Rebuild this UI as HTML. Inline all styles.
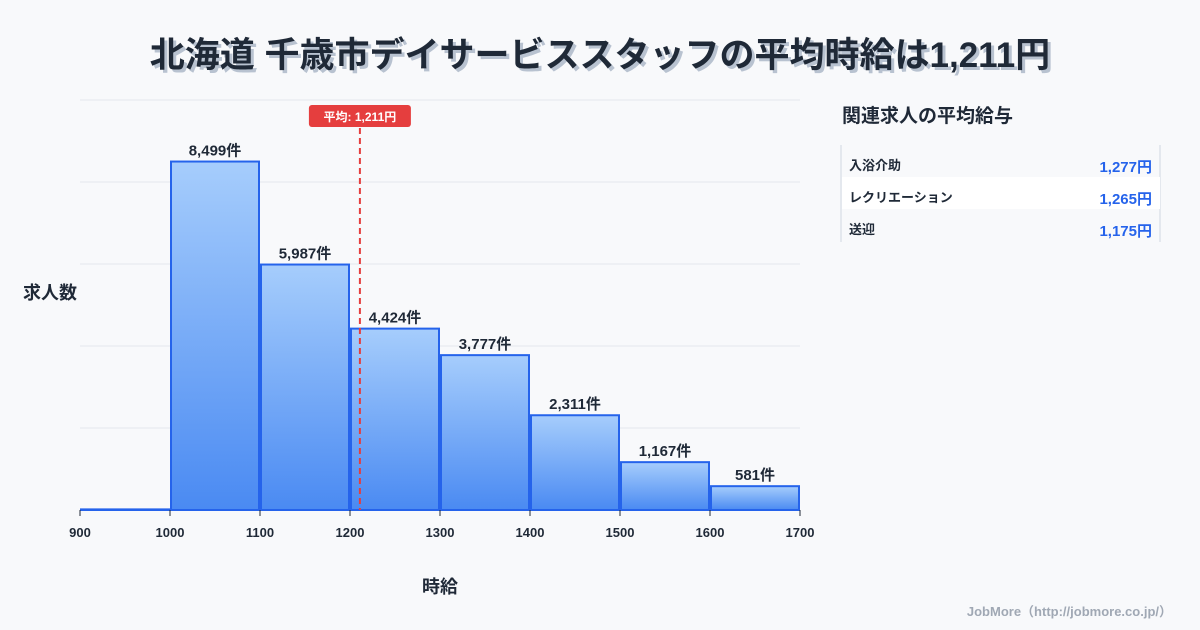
<!DOCTYPE html>
<html><head><meta charset="utf-8"><style>
body{margin:0;background:#f8f9fb;font-family:"Liberation Sans","Noto Sans CJK JP",sans-serif;}
#wrap{position:relative;width:1200px;height:630px;overflow:hidden;background:#f8f9fb}
</style></head><body>
<div id="wrap">
<svg id="svg" width="1200" height="630" xmlns="http://www.w3.org/2000/svg">
<defs><linearGradient id="g" x1="0" y1="0" x2="0" y2="1"><stop offset="0" stop-color="#a6cdfc"/><stop offset="1" stop-color="#4a8af2"/></linearGradient></defs>
<text x="600" y="67" text-anchor="middle" font-size="35" font-weight="bold" fill="#b8c2d0" transform="translate(3,3)">北海道 千歳市デイサービススタッフの平均時給は1,211円</text>
<text x="600" y="67" text-anchor="middle" font-size="35" font-weight="bold" fill="#1f2937">北海道 千歳市デイサービススタッフの平均時給は1,211円</text>
<g id="grid"></g><g id="bars"></g><g id="axis"></g>
<text x="50" y="299" text-anchor="middle" font-size="18" font-weight="bold" fill="#1f2937">求人数</text>
<text x="440" y="593" text-anchor="middle" font-size="18" font-weight="bold" fill="#1f2937">時給</text>
<text x="842" y="122" font-size="19" font-weight="bold" fill="#1f2937">関連求人の平均給与</text>
<line x1="841" y1="145" x2="841" y2="242" stroke="#cfd6e0"/>
<line x1="1160" y1="145" x2="1160" y2="242" stroke="#cfd6e0"/>
<rect x="842" y="177" width="318" height="32" fill="#ffffff"/>
<g font-size="13" font-weight="bold" fill="#1f2937">
<text x="849" y="170">入浴介助</text>
<text x="849" y="202">レクリエーション</text>
<text x="849" y="234">送迎</text></g>
<g font-size="15" font-weight="bold" fill="#2563eb" text-anchor="end">
<text x="1152" y="172">1,277円</text>
<text x="1152" y="204">1,265円</text>
<text x="1152" y="236">1,175円</text></g>
<text x="1172" y="616" text-anchor="end" font-size="13" font-weight="bold" fill="#a0a8b4">JobMore（http://jobmore.co.jp/）</text>
</svg></div>
<script>
const binStarts=[900,1000,1100,1200,1300,1400,1500,1600];
const counts=[15,8499,5987,4424,3777,2311,1167,581];
const countLabels=["","8,499件","5,987件","4,424件","3,777件","2,311件","1,167件","581件"];
const xTicks=[900,1000,1100,1200,1300,1400,1500,1600,1700];
const yTicks=[0,2000,4000,6000,8000,10000];
const meanValue=1211;
const meanLabel="平均: 1,211円";
const NS="http://www.w3.org/2000/svg";
const X=v=>80+(v-900)*0.9;
const Y=v=>510-v*0.041;
function mk(t,a,p){const e=document.createElementNS(NS,t);for(const k in a)e.setAttribute(k,a[k]);p.appendChild(e);return e;}
const grid=document.getElementById('grid'),bars=document.getElementById('bars'),axis=document.getElementById('axis');
yTicks.forEach(v=>{if(v===0)return;const l=mk('line',{x1:80,x2:800,y1:Y(v),y2:Y(v),stroke:'#e3e7ec'},grid);

});
binStarts.forEach((b,i)=>{const x0=X(b)+1,x1=X(b+100)-1,y=Y(counts[i]);
const r=mk('rect',{x:x0,y:y,width:x1-x0,height:510-y,fill:'url(#g)',stroke:'#2563eb','stroke-width':2},bars);


if(countLabels[i]){const t=mk('text',{x:(x0+x1)/2,y:y-6,'text-anchor':'middle','font-size':15,'font-weight':'bold',fill:'#1f2937'},bars);t.textContent=countLabels[i];

}});
xTicks.forEach(v=>{const l=mk('line',{x1:X(v),x2:X(v),y1:510,y2:516,stroke:'#1f2937','stroke-width':1},axis);


const t=mk('text',{x:X(v),y:537,'text-anchor':'middle','font-size':13,'font-weight':'bold',fill:'#1f2937'},axis);t.textContent=v;

});
const mx=X(meanValue);
const ml=mk('line',{x1:mx,x2:mx,y1:128,y2:510,stroke:'#e53e3e','stroke-width':2,'stroke-dasharray':'6,4'},axis);


const mr=mk('rect',{x:mx-51,y:105,width:102,height:22,rx:3,fill:'#e53e3e'},axis);


const mt=mk('text',{x:mx,y:121,'text-anchor':'middle','font-size':12,'font-weight':'bold',fill:'#fff'},axis);mt.textContent=meanLabel;


</script></body></html>
